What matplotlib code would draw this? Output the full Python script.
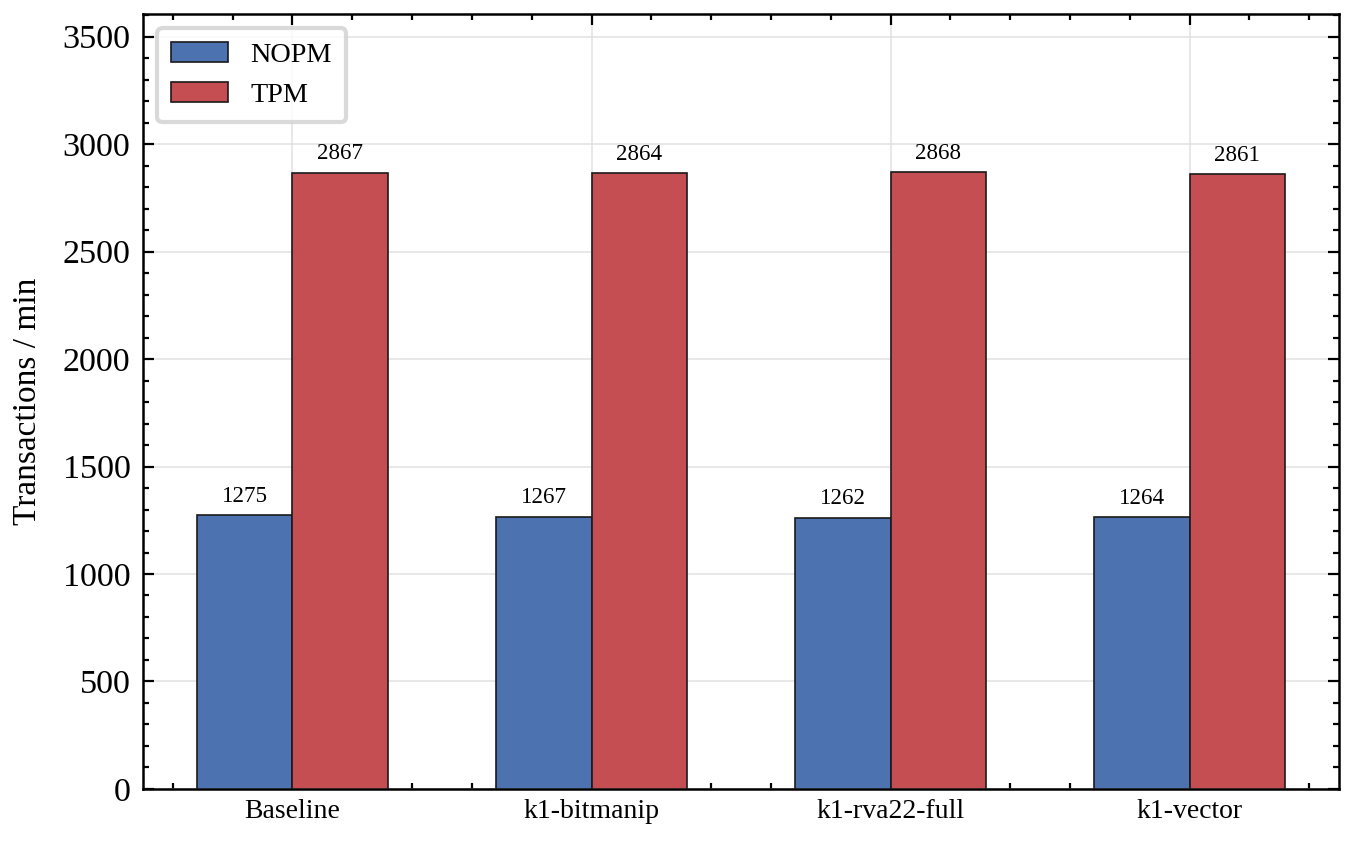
import numpy as np
import matplotlib
matplotlib.use("Agg")
import matplotlib.pyplot as plt
from matplotlib.ticker import MultipleLocator, AutoMinorLocator

plt.rcParams['font.family'] = ['Liberation Serif', 'DejaVu Serif']
plt.rcParams['mathtext.fontset'] = 'stix'

# data
configs = ['Baseline', 'k1-bitmanip', 'k1-rva22-full', 'k1-vector']
nopm = [1275, 1267, 1262, 1264]
tpm = [2867, 2864, 2868, 2861]

fig = plt.figure(figsize=(6.77, 4.22), dpi=200)
ax = fig.add_axes([0.1056, 0.0652, 0.8834, 0.9182])

x = np.arange(len(configs))
width = 0.32
b1 = ax.bar(x - width / 2, nopm, width, label='NOPM', color='#4C72B0',
            edgecolor='#1a1a1a', linewidth=0.6, zorder=3)
b2 = ax.bar(x + width / 2, tpm, width, label='TPM', color='#C44E52',
            edgecolor='#1a1a1a', linewidth=0.6, zorder=3)

for bars in (b1, b2):
    for rect in bars:
        h = rect.get_height()
        ax.annotate(f'{h:.0f}', xy=(rect.get_x() + rect.get_width() / 2, h),
                    xytext=(0, 3), textcoords='offset points',
                    ha='center', va='bottom', fontsize=8.3)

ax.set_xlim(-0.5, 3.5)
ax.set_ylim(0, 3605)
ax.set_xticks(x)
ax.set_xticklabels(configs, fontsize=10)
ax.xaxis.set_minor_locator(MultipleLocator(0.2))
ax.yaxis.set_major_locator(MultipleLocator(500))
ax.yaxis.set_minor_locator(AutoMinorLocator(5))
ax.tick_params(axis='y', labelsize=12.3, pad=4.5)
ax.set_ylabel('Transactions / min', fontsize=12, labelpad=7)

ax.tick_params(which='both', direction='in', top=True, right=True, width=0.8)
ax.tick_params(which='major', length=4)
ax.tick_params(which='minor', length=2)
for s in ax.spines.values():
    s.set_linewidth(0.9)

ax.grid(True, which='major', color='#dddddd', linewidth=0.6, alpha=0.8, zorder=0)
ax.set_axisbelow(True)

leg = ax.legend(loc='upper left', fontsize=10.2, frameon=True, fancybox=True,
                handlelength=2.0, borderpad=0.5)
leg.get_frame().set_edgecolor('#d0d0d0')
leg.get_frame().set_linewidth(1.5)

fig.savefig('out.png', dpi=200)
